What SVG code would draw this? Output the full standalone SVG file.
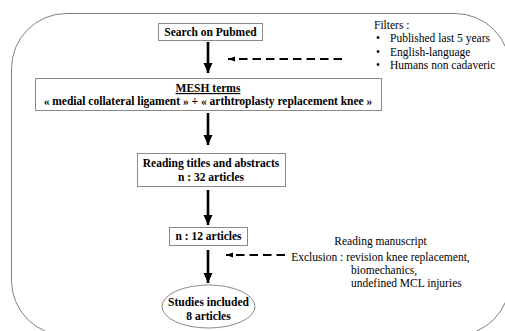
<svg xmlns="http://www.w3.org/2000/svg" width="505" height="331" viewBox="0 0 505 331">
<style>
.box{fill:#fff;stroke:#8a8a8a;stroke-width:1}
.b{font-family:'Liberation Serif','Times New Roman','DejaVu Serif',serif;font-weight:bold;font-size:11.5px;fill:#000}
.r{font-family:'Liberation Serif','Times New Roman','DejaVu Serif',serif;font-size:11.5px;fill:#000}
.arr{stroke:#000;stroke-width:2.6;fill:none}
.dash{stroke:#000;stroke-width:2;fill:none;stroke-dasharray:8.5 5}
</style>
<defs>
<marker id="ah" markerUnits="userSpaceOnUse" markerWidth="10" markerHeight="10" viewBox="0 0 10 10" refX="10" refY="5" orient="auto">
<path d="M0,0.5 L10,5 L0,9.5 Z" fill="#000"/>
</marker>
<marker id="ahs" markerUnits="userSpaceOnUse" markerWidth="7" markerHeight="6" viewBox="0 0 7 6" refX="7" refY="3" orient="auto">
<path d="M0,0.5 L7,3 L0,5.5 Z" fill="#000"/>
</marker>
</defs>
<rect x="11.5" y="13.5" width="498.5" height="322" rx="55" ry="55" fill="none" stroke="#808080" stroke-width="1"/>
<g id="connectors">
<line class="arr" x1="208" y1="42" x2="208" y2="73" marker-end="url(#ah)"/>
<line class="arr" x1="208" y1="113" x2="208" y2="145" marker-end="url(#ah)"/>
<line class="arr" x1="208" y1="190" x2="208" y2="225" marker-end="url(#ah)"/>
<line class="arr" x1="208" y1="250" x2="208" y2="283" marker-end="url(#ah)"/>
<line class="dash" x1="342" y1="59" x2="228" y2="59" marker-end="url(#ahs)"/>
<line class="dash" x1="285" y1="255" x2="226" y2="255" marker-end="url(#ahs)"/>
</g>
<g id="search">
<rect class="box" x="158.5" y="23.5" width="104" height="17"/>
<text class="b" x="210.5" y="36" text-anchor="middle">Search on Pubmed</text>
</g>
<g id="filters">
<text class="r" x="374" y="28.5">Filters :</text>
<text class="r" x="376" y="42">•</text>
<text class="r" x="390" y="42">Published last 5 years</text>
<text class="r" x="376" y="55.5">•</text>
<text class="r" x="390" y="55.5">English-language</text>
<text class="r" x="376" y="68.5">•</text>
<text class="r" x="390" y="68.5">Humans non cadaveric</text>
</g>
<g id="mesh">
<rect class="box" x="35.5" y="78.5" width="346" height="32"/>
<text class="b" x="208" y="92" text-anchor="middle" text-decoration="underline">MESH terms</text>
<text class="b" x="208" y="105" text-anchor="middle">« medial collateral ligament » + « arthtroplasty replacement knee »</text>
</g>
<g id="reading">
<rect class="box" x="137.5" y="153.5" width="148" height="33"/>
<text class="b" x="211" y="167" text-anchor="middle">Reading titles and abstracts</text>
<text class="b" x="211" y="180.5" text-anchor="middle">n : 32 articles</text>
</g>
<g id="n12">
<rect class="box" x="169.5" y="227.5" width="78" height="18"/>
<text class="b" x="208.5" y="240" text-anchor="middle">n : 12 articles</text>
</g>
<g id="exclusion">
<text class="r" x="380.5" y="245" text-anchor="middle">Reading manuscript</text>
<text class="r" x="380.5" y="261" text-anchor="middle">Exclusion : revision knee replacement,</text>
<text class="r" x="351" y="274">biomechanics,</text>
<text class="r" x="351" y="287">undefined MCL injuries</text>
</g>
<g id="included">
<ellipse cx="208.5" cy="306.5" rx="46.5" ry="21.5" fill="#fff" stroke="#8a8a8a" stroke-width="1"/>
<text class="b" x="208.5" y="305.5" text-anchor="middle">Studies included</text>
<text class="b" x="208.5" y="320" text-anchor="middle">8 articles</text>
</g>
</svg>
